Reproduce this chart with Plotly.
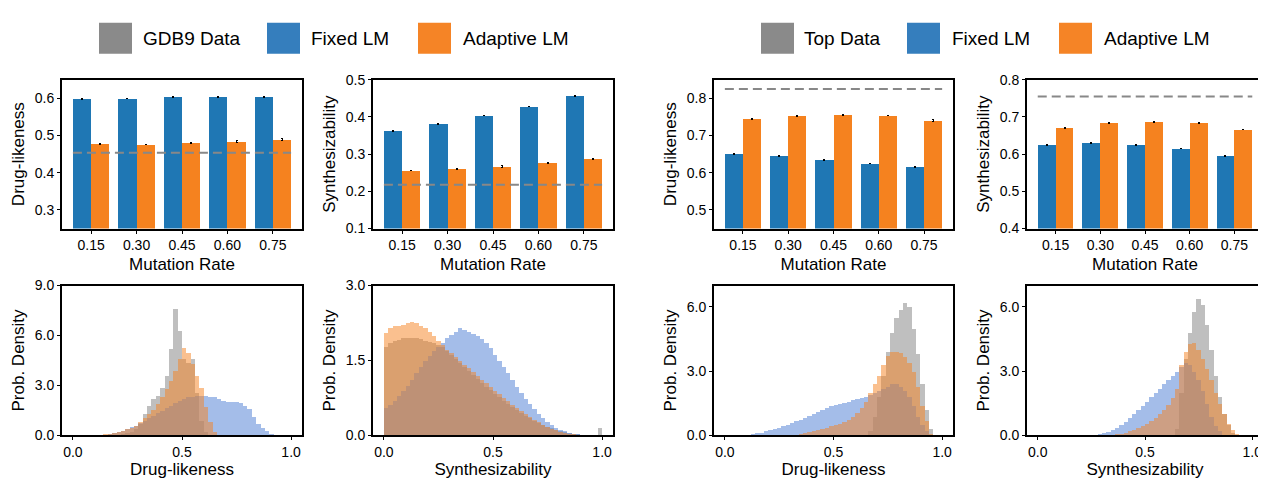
import plotly.graph_objects as go
from plotly.subplots import make_subplots

# ---------------- data ----------------
mutation_rates = ['0.15', '0.30', '0.45', '0.60', '0.75']

gdb_fixed_qed = [0.598, 0.600, 0.603, 0.603, 0.603]
gdb_adapt_qed = [0.478, 0.476, 0.481, 0.484, 0.489]
gdb_fixed_qed_err = [0.001, 0.001, 0.001, 0.001, 0.001]
gdb_adapt_qed_err = [0.001, 0.001, 0.001, 0.002, 0.002]
gdb_data_qed = 0.454

gdb_fixed_sa = [0.363, 0.381, 0.404, 0.428, 0.456]
gdb_adapt_sa = [0.256, 0.261, 0.267, 0.277, 0.287]
gdb_fixed_sa_err = [0.001, 0.001, 0.001, 0.001, 0.001]
gdb_adapt_sa_err = [0.001, 0.001, 0.002, 0.001, 0.001]
gdb_data_sa = 0.218

top_fixed_qed = [0.651, 0.645, 0.635, 0.625, 0.615]
top_adapt_qed = [0.744, 0.753, 0.755, 0.754, 0.740]
top_fixed_qed_err = [0.001, 0.001, 0.001, 0.001, 0.001]
top_adapt_qed_err = [0.001, 0.002, 0.001, 0.001, 0.003]
top_data_qed = 0.825

top_fixed_sa = [0.625, 0.630, 0.625, 0.615, 0.596]
top_adapt_sa = [0.671, 0.684, 0.686, 0.684, 0.666]
top_fixed_sa_err = [0.001, 0.001, 0.001, 0.001, 0.001]
top_adapt_sa_err = [0.001, 0.001, 0.001, 0.002, 0.001]
top_data_sa = 0.755

legend_left = ['GDB9 Data', 'Fixed LM', 'Adaptive LM']
legend_right = ['Top Data', 'Fixed LM', 'Adaptive LM']

# histogram bins (width 0.02 over [0, 1])
N_BINS = 50
bin_centers = [round(0.01 + 0.02 * i, 2) for i in range(N_BINS)]


def pad(start, vals):
    out = [0.0] * start + list(vals)
    return out + [0.0] * (N_BINS - len(out))


# GDB9 context, drug-likeness densities
hist_gdb_qed_data = pad(10, [0.05, 0.1, 0.15, 0.25, 0.4, 0.7, 1.3, 1.8, 2.2, 2.4, 2.9, 3.6,
                             5.2, 7.6, 6.3, 4.6, 4.4, 4.6, 2.6, 0.9, 0.25, 0.05])
hist_gdb_qed_fixed = pad(7, [0.05, 0.1, 0.15, 0.2, 0.3, 0.4, 0.5, 0.6, 0.75, 0.9, 1.05, 1.2,
                             1.35, 1.5, 1.65, 1.8, 1.95, 2.1, 2.2, 2.3, 2.35, 2.4, 2.4, 2.4,
                             2.35, 2.3, 2.2, 2.1, 2.05, 2.0, 2.0, 1.95, 1.8, 1.6, 1.1, 0.7,
                             0.45, 0.3, 0.12, 0.03])
hist_gdb_qed_adapt = pad(6, [0.03, 0.08, 0.12, 0.18, 0.25, 0.3, 0.38, 0.48, 0.6, 0.8, 1.05,
                             1.3, 1.55, 1.9, 2.3, 2.8, 3.3, 3.9, 4.6, 5.3, 5.0, 4.3, 3.6, 2.9,
                             1.7, 0.8, 0.2, 0.03])

# GDB9 context, synthesizability densities
hist_gdb_sa_data = pad(0, [1.78, 1.85, 1.9, 1.92, 1.95, 1.95, 1.95, 1.95, 1.93, 1.9, 1.88,
                           1.85, 1.82, 1.78, 1.7, 1.62, 1.54, 1.46, 1.38, 1.3, 1.22, 1.14,
                           1.06, 0.98, 0.91, 0.84, 0.77, 0.7, 0.63, 0.57, 0.51, 0.45, 0.4,
                           0.35, 0.3, 0.26, 0.22, 0.18, 0.15, 0.12, 0.09, 0.07, 0.05, 0.04,
                           0.03, 0.02, 0.01, 0.01, 0.01, 0.15])
hist_gdb_sa_fixed = pad(0, [0.55, 0.62, 0.7, 0.8, 0.9, 1.0, 1.12, 1.25, 1.38, 1.5, 1.6, 1.7,
                            1.78, 1.86, 1.95, 2.02, 2.08, 2.15, 2.12, 2.08, 2.04, 2.0, 1.94,
                            1.85, 1.75, 1.62, 1.5, 1.37, 1.25, 1.12, 0.98, 0.86, 0.74, 0.63,
                            0.53, 0.43, 0.35, 0.28, 0.21, 0.16, 0.12, 0.09, 0.06, 0.04, 0.03,
                            0.02, 0.01])
hist_gdb_sa_adapt = pad(0, [2.05, 2.15, 2.2, 2.2, 2.22, 2.25, 2.28, 2.25, 2.2, 2.15, 2.08,
                            2.0, 1.9, 1.82, 1.72, 1.65, 1.57, 1.5, 1.42, 1.35, 1.28, 1.2,
                            1.12, 1.05, 0.98, 0.9, 0.83, 0.76, 0.69, 0.62, 0.55, 0.49, 0.43,
                            0.37, 0.32, 0.27, 0.22, 0.18, 0.14, 0.11, 0.08, 0.06, 0.04, 0.03,
                            0.02, 0.01])

# Top-data context, drug-likeness densities
hist_top_qed_data = pad(33, [0.2, 0.9, 1.8, 2.8, 3.9, 4.8, 5.5, 5.9, 6.2, 6.0, 5.0, 3.8,
                             2.4, 1.2, 0.3])
hist_top_qed_fixed = pad(5, [0.05, 0.1, 0.12, 0.15, 0.2, 0.25, 0.3, 0.37, 0.44, 0.52, 0.6,
                             0.68, 0.76, 0.85, 0.94, 1.03, 1.12, 1.22, 1.3, 1.37, 1.43, 1.48,
                             1.54, 1.6, 1.65, 1.7, 1.75, 1.82, 1.9, 2.0, 2.1, 2.2, 2.3, 2.4,
                             2.4, 2.3, 2.1, 1.8, 1.4, 0.9, 0.5, 0.2, 0.05])
hist_top_qed_adapt = pad(16, [0.05, 0.1, 0.13, 0.16, 0.2, 0.25, 0.32, 0.38, 0.45, 0.5, 0.57,
                              0.65, 0.75, 0.88, 1.05, 1.3, 1.6, 2.0, 2.4, 2.8, 3.3, 3.75, 3.9,
                              3.9, 3.85, 3.7, 3.4, 3.0, 2.3, 1.4, 0.7, 0.1])

# Top-data context, synthesizability densities
hist_top_sa_data = pad(32, [0.3, 2.0, 3.6, 4.8, 5.8, 6.4, 6.1, 5.2, 4.0, 2.8, 1.8, 1.0, 0.5,
                            0.15])
hist_top_sa_fixed = pad(12, [0.02, 0.04, 0.07, 0.12, 0.18, 0.26, 0.36, 0.5, 0.65, 0.82, 1.0,
                             1.2, 1.4, 1.6, 1.8, 2.0, 2.2, 2.4, 2.6, 2.8, 3.0, 3.2, 3.4, 3.3,
                             3.0, 2.6, 2.1, 1.5, 0.9, 0.45, 0.2, 0.05])
hist_top_sa_adapt = pad(17, [0.03, 0.06, 0.1, 0.15, 0.2, 0.27, 0.35, 0.45, 0.57, 0.7, 0.85,
                             1.0, 1.2, 1.45, 1.75, 2.2, 3.3, 3.9, 4.3, 4.35, 4.0, 3.6, 3.1,
                             2.6, 2.0, 1.5, 1.0, 0.55, 0.25, 0.07])

# ---------------- styles ----------------
PAGE_W, PAGE_H = 1266, 482
OFF = 8                      # default page body margin
W, H = PAGE_W - OFF, PAGE_H - OFF
FONT = 'Liberation Sans, Arial, sans-serif'
BLUE = '#1f77b4'
ORANGE = '#f5821f'
H_GRAY = 'rgba(128,128,128,0.5)'
H_BLUE = 'rgba(90,135,215,0.55)'
H_ORANGE = 'rgba(245,130,32,0.5)'
LEG_COLORS = ['#8a8a8a', '#357ebd', '#f58426']


def px_x(p):
    return (p - OFF) / W


def px_y(p):
    return 1 - (p - OFF) / H


fig = make_subplots(rows=2, cols=4)

col_px = [(62, 302), (373, 613), (714, 953), (1027, 1263)]
row_px = [(74, 228), (287, 442)]


def add_bars(col, fixed, adapt, ferr, aerr):
    fig.add_trace(go.Bar(x=mutation_rates, y=fixed, width=0.4, offset=-0.4,
                         marker=dict(color=BLUE, line_width=0),
                         error_y=dict(type='data', array=ferr, color='black',
                                      thickness=1, width=1),
                         showlegend=False), row=1, col=col)
    fig.add_trace(go.Bar(x=mutation_rates, y=adapt, width=0.4, offset=0.0,
                         marker=dict(color=ORANGE, line_width=0),
                         error_y=dict(type='data', array=aerr, color='black',
                                      thickness=1, width=1),
                         showlegend=False), row=1, col=col)


def add_hist(col, data, fixed, adapt):
    for vals, c in ((data, H_GRAY), (fixed, H_BLUE), (adapt, H_ORANGE)):
        fig.add_trace(go.Bar(x=bin_centers, y=vals, width=0.02,
                             marker=dict(color=c, line_width=0),
                             showlegend=False), row=2, col=col)


add_bars(1, gdb_fixed_qed, gdb_adapt_qed, gdb_fixed_qed_err, gdb_adapt_qed_err)
add_bars(2, gdb_fixed_sa, gdb_adapt_sa, gdb_fixed_sa_err, gdb_adapt_sa_err)
add_bars(3, top_fixed_qed, top_adapt_qed, top_fixed_qed_err, top_adapt_qed_err)
add_bars(4, top_fixed_sa, top_adapt_sa, top_fixed_sa_err, top_adapt_sa_err)

add_hist(1, hist_gdb_qed_data, hist_gdb_qed_fixed, hist_gdb_qed_adapt)
add_hist(2, hist_gdb_sa_data, hist_gdb_sa_fixed, hist_gdb_sa_adapt)
add_hist(3, hist_top_qed_data, hist_top_qed_fixed, hist_top_qed_adapt)
add_hist(4, hist_top_sa_data, hist_top_sa_fixed, hist_top_sa_adapt)

# reference dashed lines (data mean) over the bar extent
ref_lines = [gdb_data_qed, gdb_data_sa, top_data_qed, top_data_sa]
for i, yv in enumerate(ref_lines):
    fig.add_shape(type='line', x0=-0.4, x1=4.4, y0=yv, y1=yv,
                  line=dict(color='#888888', width=2, dash='9px,5px'),
                  row=1, col=i + 1)

axis_common = dict(showline=True, linecolor='black', linewidth=2, mirror=True,
                   ticks='outside', ticklen=3, tickwidth=1.2, tickcolor='black',
                   showgrid=False, zeroline=False,
                   tickfont=dict(family=FONT, size=14, color='black'),
                   title_font=dict(family=FONT, size=17, color='black'))

top_y = [
    dict(range=[0.25, 0.65], tickvals=[0.3, 0.4, 0.5, 0.6], title='Drug-likeness'),
    dict(range=[0.1, 0.5], tickvals=[0.1, 0.2, 0.3, 0.4, 0.5], title='Synthesizability'),
    dict(range=[0.45, 0.85], tickvals=[0.5, 0.6, 0.7, 0.8], title='Drug-likeness'),
    dict(range=[0.4, 0.8], tickvals=[0.4, 0.5, 0.6, 0.7, 0.8], title='Synthesizability'),
]
bot_y = [
    dict(range=[0, 9], tickvals=[0, 3, 6, 9]),
    dict(range=[0, 3], tickvals=[0, 1.5, 3.0]),
    dict(range=[0, 7], tickvals=[0, 3, 6]),
    dict(range=[0, 7], tickvals=[0, 3, 6]),
]
bot_x_titles = ['Drug-likeness', 'Synthesizability', 'Drug-likeness', 'Synthesizability']

for c in range(4):
    x0p, x1p = col_px[c]
    xd = [px_x(x0p), px_x(x1p)]
    for r in range(2):
        y0p, y1p = row_px[r]
        yd = [px_y(y1p), px_y(y0p)]
        if r == 0:
            fig.update_xaxes(axis_common, domain=xd, type='category',
                             categoryorder='array', categoryarray=mutation_rates,
                             range=[-0.64, 4.64], title=dict(text='Mutation Rate', standoff=6),
                             row=1, col=c + 1)
            yy = top_y[c]
            fig.update_yaxes(axis_common, domain=yd, range=yy['range'],
                             tickvals=yy['tickvals'], tickformat='.1f',
                             title=dict(text=yy['title'], standoff=6),
                             row=1, col=c + 1)
        else:
            fig.update_xaxes(axis_common, domain=xd, range=[-0.05, 1.05],
                             tickvals=[0, 0.5, 1.0], tickformat='.1f',
                             title=dict(text=bot_x_titles[c], standoff=4),
                             row=2, col=c + 1)
            yy = bot_y[c]
            fig.update_yaxes(axis_common, domain=yd, range=yy['range'],
                             tickvals=yy['tickvals'], tickformat='.1f',
                             title=dict(text='Prob. Density', standoff=6),
                             row=2, col=c + 1)

# legends drawn as patches + labels
leg_sq_x = [[99, 267, 418], [761, 907, 1059]]
leg_tx_x = [[141, 309, 461], [802, 950, 1102]]
for g, labels in enumerate([legend_left, legend_right]):
    for k, lab in enumerate(labels):
        sx = leg_sq_x[g][k]
        fig.add_shape(type='rect', xref='paper', yref='paper',
                      x0=px_x(sx), x1=px_x(sx + 33), y0=px_y(47), y1=px_y(15),
                      fillcolor=LEG_COLORS[k], line=dict(width=0))
        fig.add_annotation(xref='paper', yref='paper', x=px_x(leg_tx_x[g][k]),
                           y=px_y(31), text=lab, showarrow=False,
                           xanchor='left', yanchor='middle',
                           font=dict(family=FONT, size=19, color='black'))

fig.update_layout(width=W, height=H, margin=dict(l=0, r=0, t=0, b=0),
                  barmode='overlay', bargap=0,
                  plot_bgcolor='white', paper_bgcolor='white',
                  font=dict(family=FONT, color='black'))

fig.write_html('out.html')
